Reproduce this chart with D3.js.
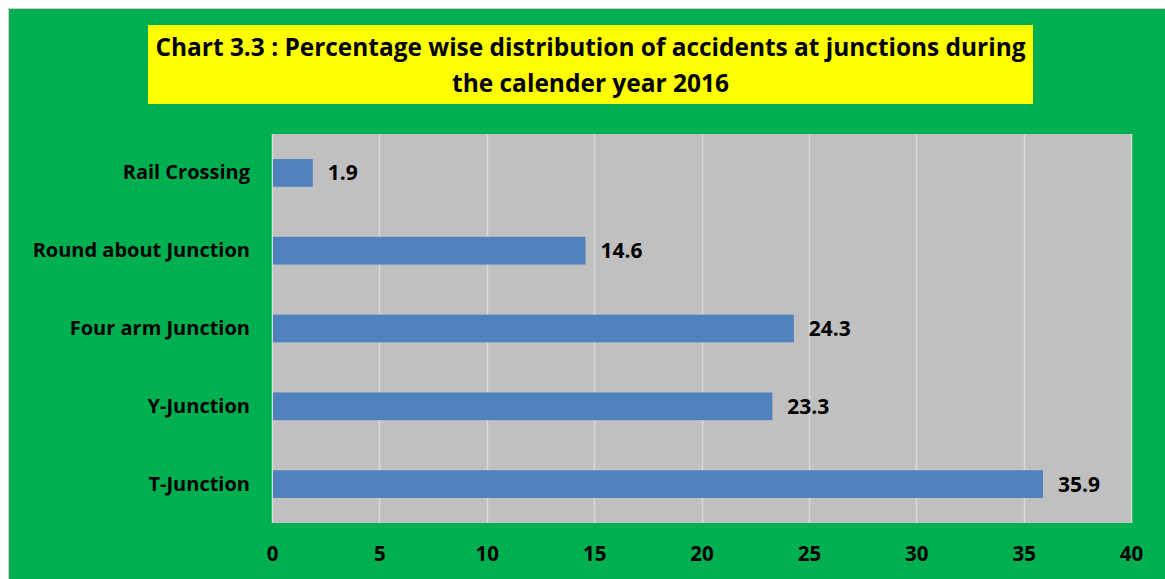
<!DOCTYPE html>
<html>
<head>
<meta charset="utf-8">
<script src="https://cdn.jsdelivr.net/npm/d3@7"></script>
<style>
  body { margin: 0; background: #fff; }
  svg text { font-family: "Open Sans", sans-serif; font-weight: bold; fill: #000; }
</style>
</head>
<body>
<svg id="chart"></svg>
<script>
// data
const categories = ["Rail Crossing", "Round about Junction", "Four arm Junction", "Y-Junction", "T-Junction"];
const values = [1.9, 14.6, 24.3, 23.3, 35.9];
const xTicks = [0, 5, 10, 15, 20, 25, 30, 35, 40];
const titleLines = ["Chart 3.3 : Percentage wise distribution of accidents at junctions during", "the calender year 2016"];

const width = 1165, height = 579;
const plot = {left: 272, right: 1131, top: 134, bottom: 523};

const svg = d3.select("#chart").attr("width", width).attr("height", height);

// green background with thin grey frame
svg.append("rect")
  .attr("x", 8.5).attr("y", 8.5)
  .attr("width", width).attr("height", height)
  .attr("fill", "#00B050")
  .attr("stroke", "#d0d0d0");

// title box
svg.append("rect")
  .attr("x", 148).attr("y", 25)
  .attr("width", 885).attr("height", 79)
  .attr("fill", "#FFFF00");

svg.selectAll(".title")
  .data(titleLines)
  .enter().append("text")
  .attr("class", "title")
  .attr("x", 590.5)
  .attr("y", (d, i) => 56 + i * 36)
  .attr("text-anchor", "middle")
  .style("font-size", "24.5px")
  .attr("textLength", (d, i) => i === 0 ? 870 : 277)
  .attr("lengthAdjust", "spacingAndGlyphs")
  .text(d => d);

const x = d3.scaleLinear().domain([0, 40]).range([plot.left, plot.right]);
const y = d3.scaleBand().domain(categories)
  .range([plot.top, plot.bottom])
  .paddingInner(0.644).paddingOuter(0.322);

// plot area
svg.append("rect")
  .attr("x", plot.left).attr("y", plot.top)
  .attr("width", plot.right - plot.left).attr("height", plot.bottom - plot.top)
  .attr("fill", "#C0C0C0");

// vertical gridlines
svg.append("g")
  .selectAll("line")
  .data(xTicks)
  .enter().append("line")
  .attr("x1", d => Math.round(x(d)) + 0.5).attr("x2", d => Math.round(x(d)) + 0.5)
  .attr("y1", plot.top).attr("y2", plot.bottom)
  .attr("stroke", "#d9d9d9")
  .attr("stroke-width", 1.5);

// bars
svg.append("g")
  .selectAll("rect")
  .data(values)
  .enter().append("rect")
  .attr("x", x(0) + 1)
  .attr("y", (d, i) => y(categories[i]))
  .attr("width", d => x(d) - x(0) - 1)
  .attr("height", y.bandwidth())
  .attr("fill", "#4F81BD");

// value labels
svg.append("g")
  .selectAll("text")
  .data(values)
  .enter().append("text")
  .attr("x", d => x(d) + 15)
  .attr("y", (d, i) => y(categories[i]) + y.bandwidth() / 2)
  .attr("dy", "0.36em")
  .style("font-size", "21px")
  .text(d => d.toFixed(1));

// category axis
const yAxis = svg.append("g")
  .attr("transform", `translate(${plot.left},0)`)
  .call(d3.axisLeft(y).tickSize(0).tickPadding(22));
yAxis.select(".domain").remove();
yAxis.selectAll("text").style("font-size", "20px").attr("fill", "#000")
  .style("font-family", "'Open Sans', sans-serif");

// value axis
const xAxis = svg.append("g")
  .attr("transform", `translate(0,${plot.bottom})`)
  .call(d3.axisBottom(x).tickValues(xTicks).tickSize(0).tickPadding(23));
xAxis.select(".domain").remove();
xAxis.selectAll("text").style("font-size", "20.5px").attr("fill", "#000")
  .style("font-family", "'Open Sans', sans-serif");
</script>
</body>
</html>
